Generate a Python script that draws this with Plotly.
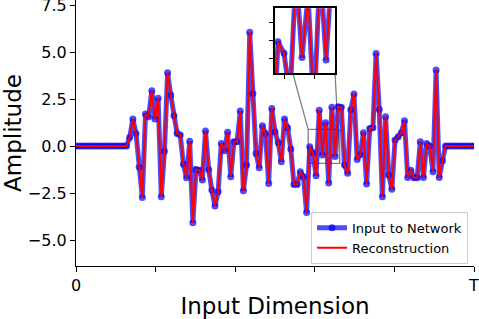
import plotly.graph_objects as go

# ---- data ----
lead_zeros = [0.0] * 17
body = [0.46, 1.44, 0.67, -1.13, -2.73, 1.70, 1.56, 2.94, 1.44, 2.54,
        -2.70, -0.27, 3.90, 2.71, 1.61, 0.67, 0.59, -0.97, -1.69, 0.25,
        -4.08, -1.24, -1.28, -1.81, 0.80, -1.24, -2.34, -3.19, -2.43, 0.14,
        -0.25, 0.73, -1.63, 0.23, 0.23, 1.86, -2.38, -1.01, 6.05, 2.80,
        -0.39, -1.15, 1.08, 0.67, -1.99, 2.00, 0.76, 0.18, -0.83, 1.44,
        0.97, -0.16, -2.04, -2.04, -1.37, -1.63, -3.53, -0.04, -0.36, -1.58,
        1.91, -0.48, 1.24, -1.97, 2.06, -0.55, 2.09, 2.06, -1.01, -1.45,
        1.93, 2.77, -0.71, -0.45, 0.71, -2.02, 0.94, 0.97, 4.93, 1.95,
        -2.70, 1.56, -1.54, -2.30, 0.32, 0.49, 0.71, 1.35, -1.67, -1.28,
        -1.69, -1.69, 0.23, -1.67, 0.14, 0.00, -1.37, 4.04, -1.67, -0.78]
tail_zeros = [0.0] * 10
input_signal = lead_zeros + body + tail_zeros
reconstruction = list(input_signal)  # visually identical to the input
x_vals = list(range(len(input_signal)))

x_tick_labels = ["0", "", "", "", "", "T"]
y_ticks = [-5.0, -2.5, 0.0, 2.5, 5.0, 7.5]
inset_y_ticks = [-0.5, 0.0, 0.5]
inset_x_ticks = [75, 80]

# ---- ranges / layout parameters ----
x_max = len(input_signal) - 1
main_xrange = [0, x_max]
main_yrange = [-6.38, 7.77]
inset_xrange = [73.5, 83.5]
inset_yrange = [-0.92, 0.89]
inset_xdom = [0.50, 0.651]
inset_ydom = [0.724, 0.969]
FONT = "DejaVu Sans"
blue = "rgba(0,0,255,0.7)"

fig = go.Figure()
for xa, ya, show in [("x", "y", True), ("x2", "y2", False)]:
    fig.add_trace(go.Scatter(
        x=x_vals, y=input_signal, mode="lines+markers", name="Input to Network",
        line=dict(color=blue, width=5), marker=dict(color=blue, size=7),
        xaxis=xa, yaxis=ya, showlegend=show))
    fig.add_trace(go.Scatter(
        x=x_vals, y=reconstruction, mode="lines", name="Reconstruction",
        line=dict(color="red", width=2), xaxis=xa, yaxis=ya, showlegend=show))

tick_positions = [x_max * k / 5 for k in range(6)]


def to_paper(xv, yv):
    px = (xv - main_xrange[0]) / (main_xrange[1] - main_xrange[0])
    py = (yv - main_yrange[0]) / (main_yrange[1] - main_yrange[0])
    return px, py


shapes = [dict(type="rect", xref="x", yref="y",
               x0=inset_xrange[0], x1=inset_xrange[1],
               y0=inset_yrange[0], y1=inset_yrange[1],
               line=dict(color="#808080", width=1.3), layer="below")]
rx0, ry1 = to_paper(inset_xrange[0], inset_yrange[1])
rx1, ry0 = to_paper(inset_xrange[1], inset_yrange[0])
shapes.append(dict(type="line", xref="paper", yref="paper",
                   x0=inset_xdom[0], y0=inset_ydom[1], x1=rx0, y1=ry1,
                   line=dict(color="#808080", width=1.3), layer="below"))
shapes.append(dict(type="line", xref="paper", yref="paper",
                   x0=inset_xdom[1], y0=inset_ydom[0], x1=rx1, y1=ry0,
                   line=dict(color="#808080", width=1.3), layer="below"))

fig.update_layout(
    width=479, height=319,
    margin=dict(l=76, r=5, t=0, b=53, autoexpand=False),
    paper_bgcolor="white", plot_bgcolor="white",
    font=dict(family=FONT, color="black"),
    showlegend=True,
    legend=dict(x=0.985, y=0.008, xanchor="right", yanchor="bottom",
                bgcolor="white", bordercolor="#cccccc", borderwidth=1,
                font=dict(family=FONT, size=13), tracegroupgap=0),
    xaxis=dict(range=main_xrange, domain=[0, 1], showgrid=False, zeroline=False,
               automargin=False, ticklabeloverflow="allow",
               showline=True, linecolor="black", linewidth=1.2,
               ticks="outside", ticklen=5, tickwidth=1.2, tickcolor="black",
               tickvals=tick_positions, ticktext=x_tick_labels,
               tickfont=dict(size=16),
               title=dict(text="Input Dimension", font=dict(size=23), standoff=5)),
    yaxis=dict(range=main_yrange, domain=[0, 1], showgrid=False, zeroline=False,
               automargin=False, ticklabeloverflow="allow",
               showline=True, linecolor="black", linewidth=1.2,
               ticks="outside", ticklen=5, tickwidth=1.2, tickcolor="black",
               tickvals=y_ticks, tickformat=".1f", tickfont=dict(size=16),
               title=dict(text="Amplitude", font=dict(size=23), standoff=4)),
    xaxis2=dict(range=inset_xrange, domain=inset_xdom, anchor="y2",
                automargin=False,
                showgrid=False, zeroline=False, showline=True, mirror=True,
                linecolor="black", linewidth=1.5, ticks="outside", ticklen=4,
                tickcolor="black", tickvals=inset_x_ticks, showticklabels=False),
    yaxis2=dict(range=inset_yrange, domain=inset_ydom, anchor="x2",
                automargin=False,
                showgrid=False, zeroline=False, showline=True, mirror=True,
                linecolor="black", linewidth=1.5, ticks="outside", ticklen=4,
                tickcolor="black", tickvals=inset_y_ticks, showticklabels=False),
    shapes=shapes,
)

fig.write_html("out.html", config={"displayModeBar": False},
               post_script="document.body.style.margin='0';document.body.style.overflow='hidden';")
